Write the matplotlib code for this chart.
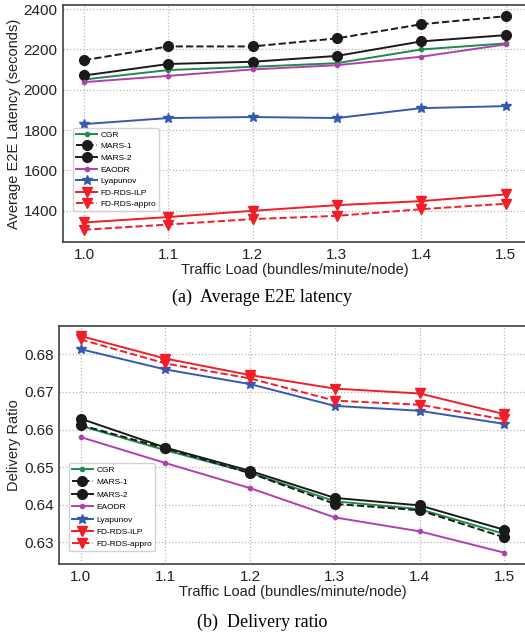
import matplotlib
matplotlib.use('Agg')
import matplotlib.pyplot as plt

plt.rcParams["font.family"] = ["Liberation Sans", "DejaVu Sans"]

traffic_load = [1.0, 1.1, 1.2, 1.3, 1.4, 1.5]

# Average E2E latency (seconds)
lat_cgr = [2051, 2098, 2114, 2132, 2200, 2230]
lat_mars1 = [2147, 2215, 2215, 2255, 2325, 2365]
lat_mars2 = [2071, 2128, 2139, 2168, 2240, 2271]
lat_eaodr = [2038, 2069, 2101, 2122, 2164, 2225]
lat_lyap = [1830, 1860, 1865, 1860, 1909, 1919]
lat_ilp = [1342, 1369, 1400, 1428, 1448, 1481]
lat_appro = [1306, 1332, 1359, 1375, 1408, 1435]

# Delivery ratio
dr_cgr = [0.6610, 0.6545, 0.6485, 0.6409, 0.6388, 0.6322]
dr_mars1 = [0.6612, 0.6550, 0.6484, 0.6402, 0.6385, 0.6313]
dr_mars2 = [0.6629, 0.6552, 0.6490, 0.6418, 0.6398, 0.6333]
dr_eaodr = [0.6580, 0.6511, 0.6444, 0.6366, 0.6329, 0.6272]
dr_lyap = [0.6814, 0.6760, 0.6721, 0.6663, 0.6650, 0.6615]
dr_ilp = [0.6849, 0.6789, 0.6745, 0.6709, 0.6696, 0.6641]
dr_appro = [0.6840, 0.6776, 0.6736, 0.6677, 0.6666, 0.6627]

GREEN = '#1e8a4c'
BLACK = '#1a1a1a'
MAGENTA = '#b040b0'
BLUE = '#3558b0'
RED = '#f01e28'
SPINE = '#404040'


def draw_series(ax, series):
	styles = [
		('CGR', GREEN, '-', 'o', 3),
		('MARS-1', BLACK, '--', 'o', 7),
		('MARS-2', BLACK, '-', 'o', 7),
		('EAODR', MAGENTA, '-', 'o', 3),
		('Lyapunov', BLUE, '-', '*', 7.5),
		('FD-RDS-ILP', RED, '-', 'v', 7),
		('FD-RDS-appro', RED, '--', 'v', 7),
	]
	for (label, color, ls, marker, ms), values in zip(styles, series):
		ax.plot(traffic_load, values, linestyle=ls, color=color, marker=marker,
		        markersize=ms, linewidth=1.4, label=label)


def style_axes(ax):
	ax.grid(True, linestyle=':', color='#b8b8b8', linewidth=0.9)
	ax.set_axisbelow(True)
	for spine in ax.spines.values():
		spine.set_color(SPINE)
		spine.set_linewidth(1.2)
	ax.tick_params(axis='both', which='both', length=0, labelsize=11, pad=4, colors='#222222')
	ax.set_xticks(traffic_load)
	ax.set_xlim(0.975, 1.525)
	ax.set_xlabel('Traffic Load (bundles/minute/node)', fontsize=10.5, labelpad=1, color='#222222')


def add_legend(ax, anchor, spacing):
	ax.legend(loc='upper left', bbox_to_anchor=anchor, borderaxespad=0, fontsize=6,
	          handlelength=2.5, handletextpad=0.4, labelspacing=spacing, borderpad=0.35,
	          framealpha=0.9, edgecolor='#cccccc')


fig = plt.figure(figsize=(5.25, 6.37), dpi=100)

# (a) latency
ax1 = fig.add_axes([0.120, 0.620, 0.883, 0.372])
draw_series(ax1, [lat_cgr, lat_mars1, lat_mars2, lat_eaodr, lat_lyap, lat_ilp, lat_appro])
style_axes(ax1)
ax1.set_ylim(1245, 2420)
ax1.set_yticks([1400, 1600, 1800, 2000, 2200, 2400])
ax1.set_ylabel('Average E2E Latency (seconds)', fontsize=10.5, labelpad=2, color='#222222')
add_legend(ax1, (0.022, 0.481), 0.45)

# (b) delivery ratio
ax2 = fig.add_axes([0.113, 0.1146, 0.888, 0.3744])
draw_series(ax2, [dr_cgr, dr_mars1, dr_mars2, dr_eaodr, dr_lyap, dr_ilp, dr_appro])
style_axes(ax2)
ax2.set_ylim(0.6242, 0.6877)
ax2.set_yticks([0.63, 0.64, 0.65, 0.66, 0.67, 0.68])
ax2.set_ylabel('Delivery Ratio', fontsize=10.5, labelpad=2, color='#222222')
add_legend(ax2, (0.021, 0.423), 0.55)

# captions
fig.text(0.5, 1 - 297 / 637, '(a)  Average E2E latency', ha='center', va='center',
         fontsize=13, family=['Liberation Serif', 'DejaVu Serif'])
fig.text(0.5, 1 - 622 / 637, '(b)  Delivery ratio', ha='center', va='center',
         fontsize=13, family=['Liberation Serif', 'DejaVu Serif'])

fig.savefig('out.png', dpi=100)
